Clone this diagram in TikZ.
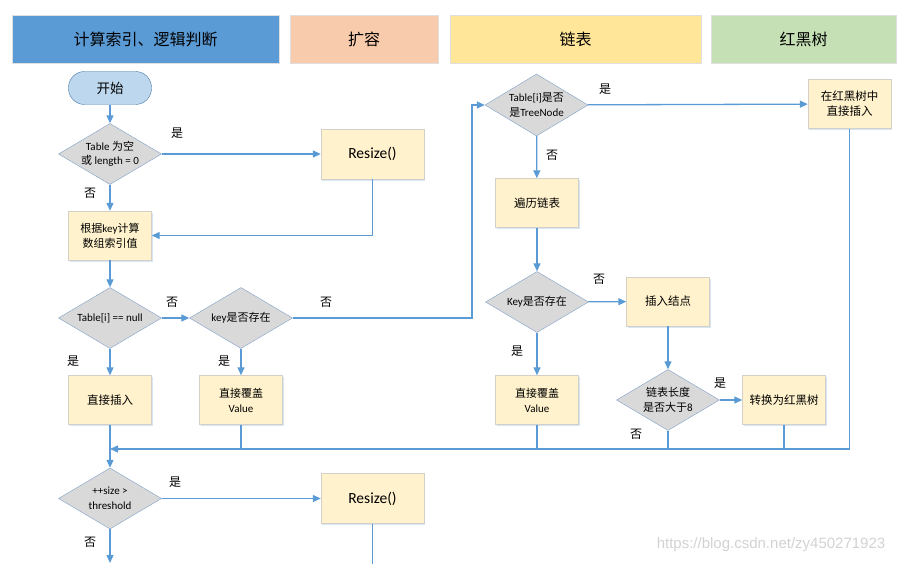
\documentclass[tikz,border=0pt]{standalone}
\usepackage{fontspec}
\setmainfont{Carlito}
\newfontfamily\cjk{Noto Sans CJK SC}
\newfontfamily\wmfont{Liberation Sans}
\usetikzlibrary{shapes.geometric,arrows.meta,shadows}
\definecolor{flowblue}{HTML}{5B9BD5}
\definecolor{hdrorange}{HTML}{F8CBAD}
\definecolor{hdryellow}{HTML}{FFE699}
\definecolor{hdrgreen}{HTML}{C5E0B4}
\definecolor{procfill}{HTML}{FFF2CC}
\definecolor{procline}{HTML}{D4D0C8}
\definecolor{decfill}{HTML}{D9D9D9}
\definecolor{decline}{HTML}{7F9FC8}
\definecolor{startfill}{HTML}{BDD7EE}
\begin{document}
\begin{tikzpicture}[x=1pt,y=-1pt,
  header/.style={draw=white!75!gray, minimum height=48, inner sep=0, font=\cjk\fontsize{16}{18}\selectfont,
    drop shadow={shadow xshift=1pt,shadow yshift=-1.5pt,opacity=.2,fill=flowblue}},
  start/.style={draw=flowblue!80!black, fill=startfill, rounded corners=16, minimum width=83, minimum height=33, font=\cjk\fontsize{13.5}{15}\selectfont},
  proc/.style={draw=procline, fill=procfill, minimum width=83, minimum height=49, align=center, inner sep=0,
    font=\fontsize{11}{15}\selectfont, drop shadow={shadow xshift=1pt,shadow yshift=-1.5pt,opacity=.25,fill=flowblue}},
  bigproc/.style={proc, minimum width=103, minimum height=50, font=\fontsize{15.5}{18}\selectfont},
  decision/.style={diamond, draw=decline, fill=decfill, minimum width=103, minimum height=61, inner sep=0},
  dtext/.style={align=center, inner sep=0, font=\fontsize{11}{14.5}\selectfont},
  yn/.style={font=\cjk\fontsize{12}{14}\selectfont},
  flow/.style={draw=flowblue, line width=1.3pt, -{Triangle[length=8pt,width=7pt]}},
  wire/.style={draw=flowblue, line width=1.3pt}]
\useasboundingbox (0,0) rectangle (901,564);
% headers
\node[header, fill=flowblue, minimum width=267] (hcalc) at (145.5,39) {计算索引、逻辑判断};
\node[header, fill=hdrorange, minimum width=148] (hgrow) at (364,39) {扩容};
\node[header, fill=hdryellow, minimum width=251] (hlist) at (575.5,39) {链表};
\node[header, fill=hdrgreen, minimum width=185] (htree) at (803.5,39) {红黑树};
% left column
\node[start] (begin) at (110,88) {开始};
\node[decision, label={[dtext]center:Table {\cjk 为空}\\{\cjk 或} length = 0}] (d1) at (110,154) {};
\node[bigproc] (rs1) at (372.5,154) {Resize()};
\node[proc] (idx) at (110,235.5) {{\cjk 根据}key{\cjk 计算}\\{\cjk 数组索引值}};
\node[decision, label={[dtext]center:Table[i] == null}] (d2) at (110,318) {};
\node[decision, label={[dtext]center:key{\cjk 是否存在}}] (d3) at (241,318) {};
\node[proc, font=\cjk\fontsize{11.5}{15}\selectfont] (ins) at (110,400) {直接插入};
\node[proc] (cov1) at (241,400) {{\cjk 直接覆盖}\\Value};
\node[decision, minimum height=62, label={[dtext]center:Table[i]{\cjk 是否}\\{\cjk 是}TreeNode}] (d4) at (536.5,105) {};
\node[proc, font=\cjk\fontsize{11.5}{15}\selectfont] (walk) at (537,203) {遍历链表};
\node[decision, label={[dtext]center:Key{\cjk 是否存在}}] (d5) at (537,302) {};
\node[proc, font=\cjk\fontsize{11.5}{15}\selectfont] (add) at (668,301.5) {插入结点};
\node[proc] (cov2) at (537,400) {{\cjk 直接覆盖}\\Value};
\node[decision, label={[dtext]center:{\cjk 链表长度}\\{\cjk 是否大于}8}] (d6) at (668,400) {};
\node[proc, font=\cjk\fontsize{11.5}{15}\selectfont] (conv) at (784,400) {转换为红黑树};
\node[proc, font=\cjk\fontsize{11.5}{15}\selectfont] (rbi) at (849.5,104) {在红黑树中\\直接插入};
\node[decision, label={[dtext]center:++size >\\threshold}] (d7) at (110,498.5) {};
\node[bigproc] (rs2) at (372.5,498.5) {Resize()};
% yes / no
\node[yn] (y1) at (177,133) {是};
\node[yn] (n1) at (90,193) {否};
\node[yn] (n2) at (172,302) {否};
\node[yn] (n3) at (326,302) {否};
\node[yn] (y2) at (73,361) {是};
\node[yn] (y3) at (224,361) {是};
\node[yn] (y4) at (605,89) {是};
\node[yn] (n4) at (552,155) {否};
\node[yn] (n5) at (599,279) {否};
\node[yn] (y5) at (517,351) {是};
\node[yn] (y6) at (720,383) {是};
\node[yn] (n6) at (636,434) {否};
\node[yn] (y7) at (175,482) {是};
\node[yn] (n7) at (90,542) {否};
% connectors
\coordinate (jx) at (472,318);
\coordinate (mrg) at (110,449);
\coordinate (d7end) at (110,563);
\coordinate (rs2end) at (372.5,564);
\draw[flow] (begin) -- (d1);
\draw[flow] (d1) -- (rs1);
\draw[flow] (d1) -- (idx);
\draw[flow] (rs1.south) |- (idx.east);
\draw[flow] (idx) -- (d2);
\draw[flow] (d2) -- (d3);
\draw[flow] (d2) -- (ins);
\draw[flow] (d3) -- (cov1);
\draw[flow] (d3.east) -- (jx) |- (d4.west);
\draw[flow] (d4) -- (rbi);
\draw[flow] (d4) -- (walk);
\draw[flow] (walk) -- (d5);
\draw[flow] (d5) -- (add);
\draw[flow] (d5) -- (cov2);
\draw[flow] (add) -- (d6);
\draw[flow] (d6) -- (conv);
\draw[flow] (rbi.south) |- (mrg);
\draw[wire] (cov1.south) -- (cov1.south |- mrg);
\draw[wire] (cov2.south) -- (cov2.south |- mrg);
\draw[wire] (d6.south) -- (d6.south |- mrg);
\draw[wire] (conv.south) -- (conv.south |- mrg);
\draw[flow] (ins) -- (d7);
\draw[flow] (d7) -- (rs2);
\draw[flow] (d7.south) -- (d7end);
\draw[wire] (rs2.south) -- (rs2end);
\node[font=\wmfont\fontsize{15}{17}\selectfont, text=gray!35] (wm) at (771,545) {https://blog.csdn.net/zy450271923};
\end{tikzpicture}
\end{document}
